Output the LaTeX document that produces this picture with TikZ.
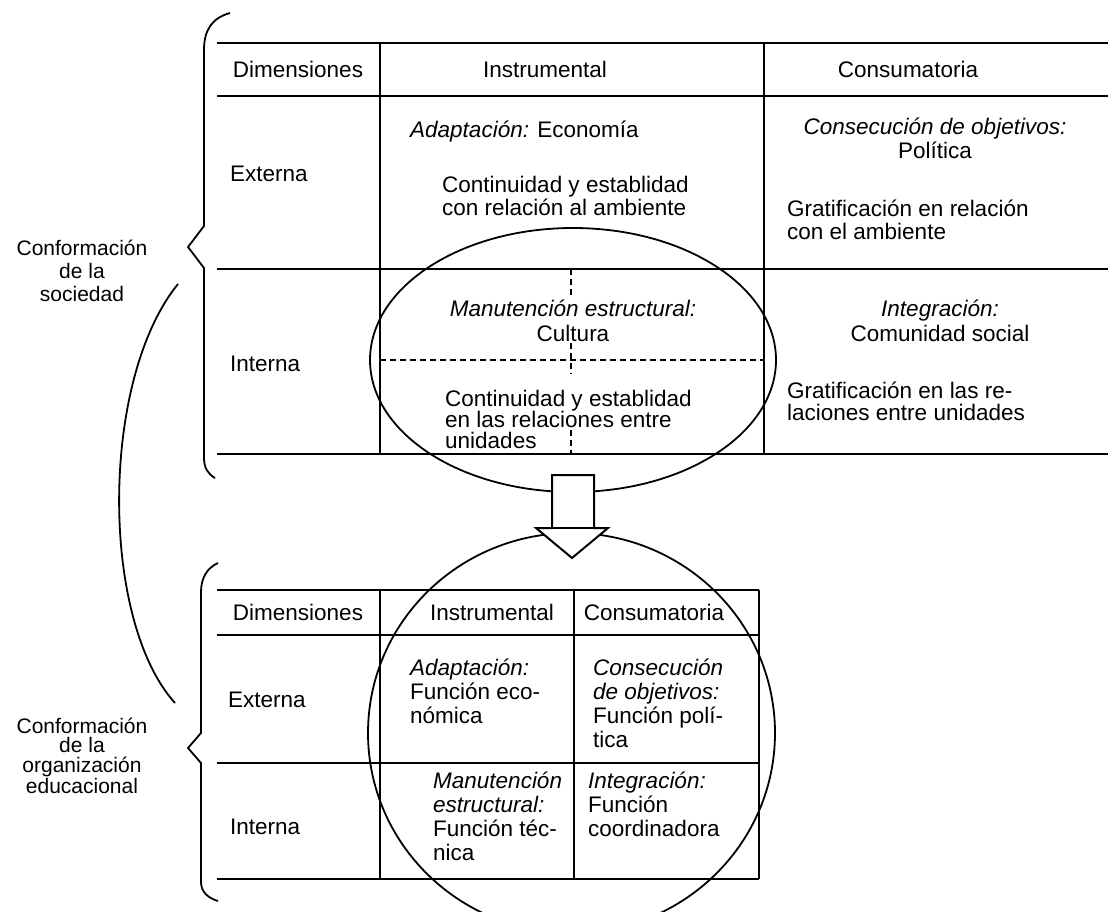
\documentclass[tikz,border=0pt]{standalone}
\usepackage{fontspec}
\setmainfont{Liberation Sans}
\usetikzlibrary{shapes.geometric}
\begin{document}
\begin{tikzpicture}[x=1pt,y=-1pt,
  rule/.style={line width=2pt},
  curve/.style={line width=1.8pt},
  dsh/.style={line width=1.2pt, dash pattern=on 6pt off 4pt},
  txt/.style={font=\fontsize{22.5}{22}\selectfont, inner sep=0pt, align=left, anchor=base west},
  ctxt/.style={font=\fontsize{22.5}{22}\selectfont, inner sep=0pt, align=center, anchor=base},
  lab/.style={font=\fontsize{21}{21}\selectfont, inner sep=0pt, align=center, anchor=base},
  oval/.style={ellipse, draw, line width=1.8pt, inner sep=0pt}
]
\useasboundingbox (0,0) rectangle (1108,912);
\fill[white] (0,0) rectangle (1108,912);

% ---------- top table ----------
\draw[dsh] (380,360) -- (764,360);
\draw[dsh] (571,269) -- (571,298);
\draw[dsh] (571,343) -- (571,374);
\draw[dsh] (571,430) -- (571,454);
\foreach \yy in {43,96,269,454} \draw[rule] (217,\yy) -- (1108,\yy);
\draw[rule] (380,43) -- (380,454);
\draw[rule] (764,43) -- (764,454);

% (multi-line nodes: base anchor = baseline of the last line)
\node[ctxt] (hdim) at (298,78) {Dimensiones};
\node[ctxt] (hins) at (545,78) {Instrumental};
\node[ctxt] (hcon) at (908,78) {Consumatoria};

\node[txt] (ext1) at (230,182) {Externa};
\node[txt] (adapt) at (410,138) {\textit{Adaptación:} Economía};
\node[txt, font=\fontsize{22.5}{21}\selectfont] (cont1) at (442,215) {Continuidad y establidad\\con relación al ambiente};
\node[ctxt, font=\fontsize{22.5}{24}\selectfont] (consec) at (935,159) {\textit{Consecución de objetivos:}\\Política};
\node[txt, font=\fontsize{22.5}{24}\selectfont] (grat1) at (787,240) {Gratificación en relación\\con el ambiente};

\node[txt] (int1) at (230,371) {Interna};
\node[ctxt, font=\fontsize{22.5}{25}\selectfont] (manut) at (573,341) {\textit{Manutención estructural:}\\Cultura};
\node[txt, font=\fontsize{22.5}{21}\selectfont] (cont2) at (445,448) {Continuidad y establidad\\en las relaciones entre\\unidades};
\node[ctxt, font=\fontsize{22.5}{25}\selectfont] (integ) at (940,341) {\textit{Integración:}\\Comunidad social};
\node[txt, font=\fontsize{22.5}{22}\selectfont] (grat2) at (787,420) {Gratificación en las re-\\laciones entre unidades};

% ---------- bottom table ----------
\foreach \yy in {590,635,763,879} \draw[rule] (217,\yy) -- (759,\yy);
\foreach \xx in {380,574,759} \draw[rule] (\xx,590) -- (\xx,879);

\node[ctxt] (bdim) at (298,620) {Dimensiones};
\node[ctxt] (bins) at (492,620) {Instrumental};
\node[ctxt] (bcon) at (654,620) {Consumatoria};
\node[txt] (bext) at (228,707) {Externa};
\node[txt] (bint) at (230,834) {Interna};
\node[txt, font=\fontsize{22.5}{24}\selectfont] (badapt) at (410,723) {\textit{Adaptación:}\\Función eco-\\nómica};
\node[txt, font=\fontsize{22.5}{24}\selectfont] (bconsec) at (593,747) {\textit{Consecución}\\\textit{de objetivos:}\\Función polí-\\tica};
\node[txt, font=\fontsize{22.5}{24}\selectfont] (bmanut) at (433,860) {\textit{Manutención}\\\textit{estructural:}\\Función téc-\\nica};
\node[txt, font=\fontsize{22.5}{24}\selectfont] (binteg) at (588,836) {\textit{Integración:}\\Función\\coordinadora};

% ---------- ovals ----------
\node[oval, minimum width=406pt, minimum height=264pt] (topoval) at (573,360) {};
\node[oval, minimum width=407pt, minimum height=400pt] (botoval) at (571.5,733) {};

% ---------- block arrow ----------
\draw[rule, fill=white, line join=miter] (552,475) -- (594,475) -- (594,528) -- (608,528) -- (572,558) -- (536,528) -- (552,528) -- cycle;
\draw[rule] (536,528) -- (608,528);

% ---------- braces ----------
\draw[curve] (230,13) .. controls (212,18) and (204,30) .. (204,50) -- (204,226) -- (188,247) -- (204,268) -- (204,458) .. controls (204,468) and (208,474) .. (215,478);
\draw[curve] (218,563) .. controls (207,568) and (201,578) .. (201,592) -- (201,733) -- (188,748) -- (201,763) -- (201,882) .. controls (201,892) and (208,898) .. (218,901);

% ---------- labels ----------
\node[lab, font=\fontsize{21}{23}\selectfont] (lab1) at (82,301) {Conformación\\de la\\sociedad};
\node[lab, font=\fontsize{21}{19.5}\selectfont] (lab2) at (82,793) {Conformación\\de la\\organización\\educacional};

\coordinate (arcA) at (178,284);
\coordinate (arcB) at (175,703);
\draw[curve] (arcA) .. controls (100,380) and (100,620) .. (arcB);
\end{tikzpicture}
\end{document}
